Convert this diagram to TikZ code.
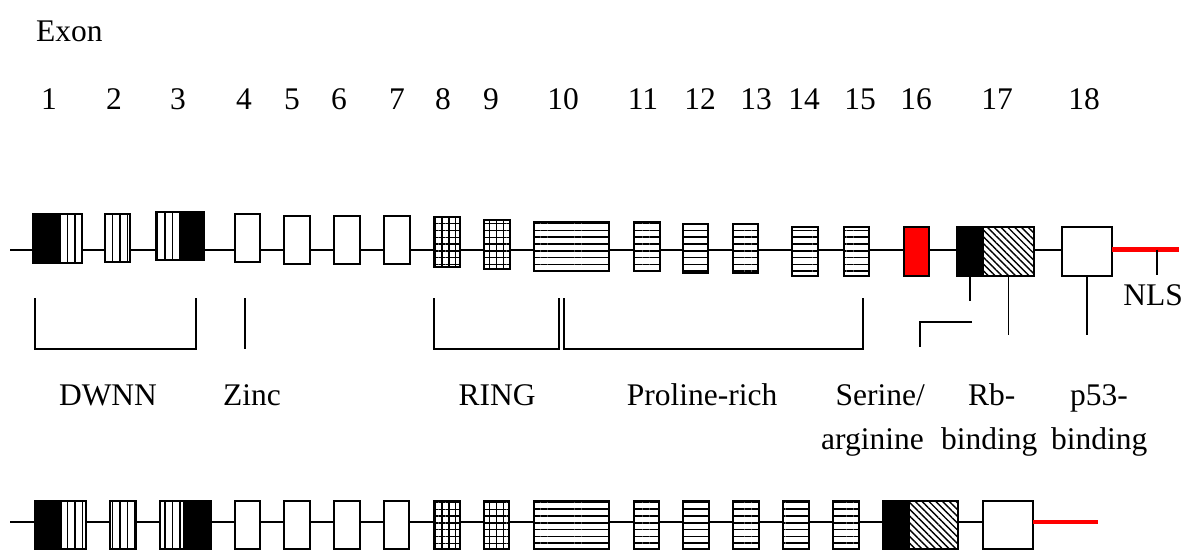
\documentclass[tikz,border=0pt]{standalone}
\usepackage{fontspec}
\setmainfont{Liberation Serif}
\usetikzlibrary{patterns.meta}

\newcommand\lblfont{\fontsize{31.5pt}{36pt}\selectfont}
% \exonbox[style]{left}{top}{right}{bottom}{name}
\newcommand\exonbox[6][]{%
  \node[exon,#1,minimum width={(#4-#2)*1pt},minimum height={(#5-#3)*1pt}]
    (#6) at ({(#2+#4)/2},{(#3+#5)/2}) {};}

\begin{document}
\begin{tikzpicture}[x=1pt,y=-1pt,
  every node/.style={font=\lblfont,inner sep=0pt},
  exon/.style={draw,line width=2pt,inner sep=0pt,outer sep=0pt},
  blk/.style={fill=black},
  plain/.style={fill=white},
  redx/.style={fill=red},
  vstripe/.style={pattern={Lines[angle=90,distance=7.5pt,line width=1.5pt]}},
  hstripe/.style={pattern={Lines[angle=0,distance=6.8pt,line width=1.5pt]}},
  gridx/.style={pattern={Hatch[angle=0,distance=6.8pt,line width=1.4pt]}},
  diag/.style={pattern={Lines[angle=-45,distance=4.8pt,line width=1.4pt]}},
  axis/.style={line width=2pt},
  nls/.style={line width=4.5pt,red},
  brk/.style={line width=1.4pt,line cap=butt}]
\useasboundingbox (0,0) rectangle (1188,550);

% ---------- upper gene map ----------
\exonbox[blk]{33}{214}{58}{263}{e1k}
\exonbox[vstripe]{58}{214}{82}{263}{e1s}
\exonbox[vstripe]{105}{214}{130}{262}{e2}
\exonbox[vstripe]{156}{212}{180}{260}{e3s}
\exonbox[blk]{180}{212}{204}{260}{e3k}
\exonbox[plain]{235}{214}{260}{262}{e4}
\exonbox[plain]{284}{216}{310}{264}{e5}
\exonbox[plain]{334}{216}{360}{264}{e6}
\exonbox[plain]{384}{216}{410}{264}{e7}
\exonbox[gridx]{434}{217}{460}{267}{e8}
\exonbox[gridx]{484}{220}{510}{269}{e9}
\exonbox[hstripe]{534}{222}{609}{271}{e10}
\exonbox[hstripe]{634}{222}{660}{271}{e11}
\exonbox[hstripe]{683}{224}{708}{273}{e12}
\exonbox[hstripe]{733}{224}{758}{273}{e13}
\exonbox[hstripe]{792}{227}{818}{276}{e14}
\exonbox[hstripe]{844}{227}{869}{276}{e15}
\exonbox[redx]{904}{227}{929}{276}{e16}
\exonbox[blk]{957}{227}{983}{276}{e17k}
\exonbox[diag]{983}{227}{1034}{276}{e17h}
\exonbox[plain]{1062}{227}{1112}{276}{e18}

\coordinate (axT) at (0,249.5);
\coordinate (startT) at (10,249.5);
\draw[axis] (startT) -- (e1k.west |- axT);
\foreach \a/\b in {e1s/e2,e2/e3s,e3k/e4,e4/e5,e5/e6,e6/e7,e7/e8,e8/e9,
                   e9/e10,e10/e11,e11/e12,e12/e13,e13/e14,e14/e15,e15/e16,
                   e16/e17k,e17h/e18}
  \draw[axis] (\a.east |- axT) -- (\b.west |- axT);
\coordinate (nlsEnd) at (1179,249.5);
\draw[nls] (e18.east |- axT) -- (nlsEnd);

% ---------- labels above ----------
\node[anchor=base west] (exonlbl) at (36,41) {Exon};
\foreach \n/\x in {1/49,2/114,3/178,4/244,5/292,6/339,7/397,8/443,9/491,
                   10/563,11/643,12/700,13/756,14/804,15/860,16/916,17/997,18/1084}
  \node[anchor=base] (num\n) at (\x,109) {\n};

% ---------- domain brackets ----------
\coordinate (dw1) at (35,298);  \coordinate (dw2) at (35,349);
\coordinate (dw3) at (196,349); \coordinate (dw4) at (196,298);
\draw[brk] (dw1) -- (dw2) -- (dw3) -- (dw4);
\coordinate (zn1) at (245,298); \coordinate (zn2) at (245,349);
\draw[brk] (zn1) -- (zn2);
\coordinate (rg1) at (434,298); \coordinate (rg2) at (434,349);
\coordinate (rg3) at (559,349); \coordinate (rg4) at (559,298);
\draw[brk] (rg1) -- (rg2) -- (rg3) -- (rg4);
\coordinate (pr1) at (564,298); \coordinate (pr2) at (564,349);
\coordinate (pr3) at (863,349); \coordinate (pr4) at (863,298);
\draw[brk] (pr1) -- (pr2) -- (pr3) -- (pr4);
\coordinate (sr1) at (972,322); \coordinate (sr2) at (920,322);
\coordinate (sr3) at (920,347);
\draw[brk] (sr1) -- (sr2) -- (sr3);
\coordinate (rbEnd) at (970,301);
\draw[brk] (e17k.south) -- (rbEnd);
\coordinate (hatchEnd) at (1008.5,335);
\draw[brk] (e17h.south) -- (hatchEnd);
\coordinate (p53End) at (1087,335);
\draw[brk] (e18.south) -- (p53End);
\coordinate (nlsTop) at (1157,249.5); \coordinate (nlsBot) at (1157,275);
\draw[brk] (nlsTop) -- (nlsBot);

% ---------- domain names ----------
\node[anchor=base] (nlslbl) at (1153,305) {NLS};
\node[anchor=base] (dwnn) at (108,405) {DWNN};
\node[anchor=base] (zinc) at (252,405) {Zinc};
\node[anchor=base] (ring) at (497,405) {RING};
\node[anchor=base] (pro) at (702,405) {Proline-rich};
\node[anchor=base east] (ser1) at (925,405) {Serine/};
\node[anchor=base east] (ser2) at (924,449) {arginine};
\node[anchor=base west] (rb1) at (968,405) {Rb-};
\node[anchor=base west] (rb2) at (941,449) {binding};
\node[anchor=base west] (p1) at (1070,405) {p53-};
\node[anchor=base west] (p2) at (1051,449) {binding};

% ---------- lower gene map ----------
\exonbox[blk]{35}{501}{61}{549}{f1k}
\exonbox[vstripe]{61}{501}{86}{549}{f1s}
\exonbox[vstripe]{110}{501}{136}{549}{f2}
\exonbox[vstripe]{160}{501}{184}{549}{f3s}
\exonbox[blk]{184}{501}{211}{549}{f3k}
\exonbox[plain]{235}{501}{260}{549}{f4}
\exonbox[plain]{284}{501}{310}{549}{f5}
\exonbox[plain]{334}{501}{360}{549}{f6}
\exonbox[plain]{384}{501}{409}{549}{f7}
\exonbox[gridx]{434}{501}{460}{549}{f8}
\exonbox[gridx]{484}{501}{509}{549}{f9}
\exonbox[hstripe]{534}{501}{609}{549}{f10}
\exonbox[hstripe]{634}{501}{659}{549}{f11}
\exonbox[hstripe]{683}{501}{709}{549}{f12}
\exonbox[hstripe]{733}{501}{759}{549}{f13}
\exonbox[hstripe]{783}{501}{809}{549}{f14}
\exonbox[hstripe]{833}{501}{859}{549}{f15}
\exonbox[blk]{883}{501}{909}{549}{f17k}
\exonbox[diag]{909}{501}{958}{549}{f17h}
\exonbox[plain]{983}{501}{1033}{549}{f18}

\coordinate (axB) at (0,522);
\coordinate (startB) at (10,522);
\draw[axis] (startB) -- (f1k.west |- axB);
\foreach \a/\b in {f1s/f2,f2/f3s,f3k/f4,f4/f5,f5/f6,f6/f7,f7/f8,f8/f9,
                   f9/f10,f10/f11,f11/f12,f12/f13,f13/f14,f14/f15,f15/f17k,
                   f17h/f18}
  \draw[axis] (\a.east |- axB) -- (\b.west |- axB);
\coordinate (tailB) at (1098,522);
\draw[nls] (f18.east |- axB) -- (tailB);
\end{tikzpicture}
\end{document}
